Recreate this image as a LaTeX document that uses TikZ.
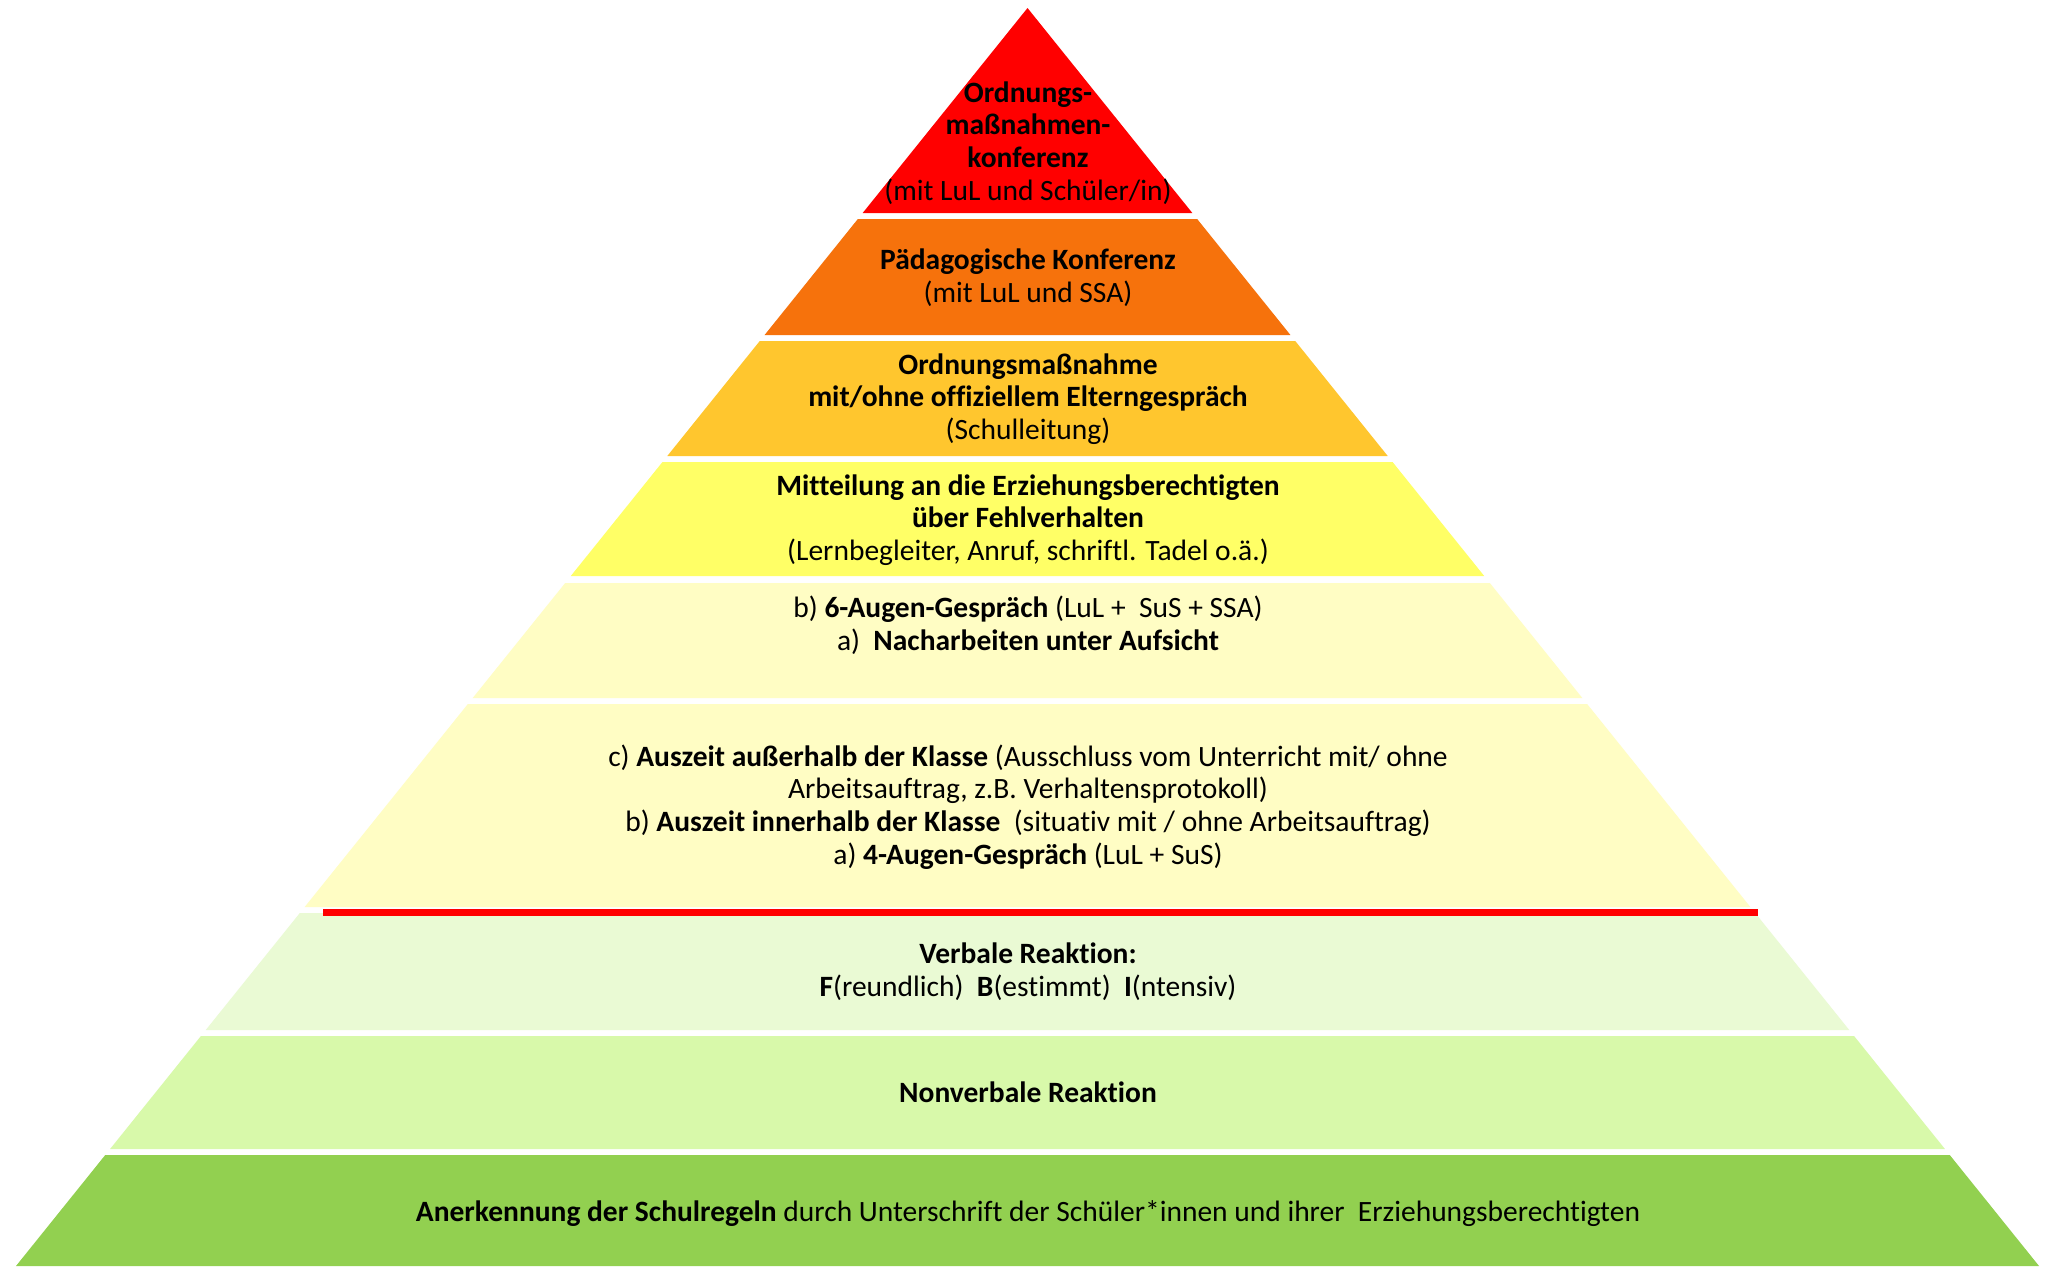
\documentclass[tikz,border=0pt]{standalone}
\usepackage{fontspec}
\setmainfont{Carlito}[Ligatures=CommonOff]
\definecolor{cRed}{RGB}{255,0,0}
\definecolor{cOrange}{RGB}{246,114,12}
\definecolor{cAmber}{RGB}{255,198,46}
\definecolor{cYellow}{RGB}{255,255,102}
\definecolor{cPale}{RGB}{255,253,196}
\definecolor{cGreenA}{RGB}{234,250,212}
\definecolor{cGreenB}{RGB}{216,249,170}
\definecolor{cGreenC}{RGB}{146,208,80}
\newcommand\pyrlayer[3]{%
  \fill[#3] ({1027.5-0.80406*(#1-8)},#1) -- ({1027.5+0.80406*(#1-8)},#1)
    -- ({1027.5+0.80406*(#2-8)},#2) -- ({1027.5-0.80406*(#2-8)},#2) -- cycle;}
\tikzset{
  lbl/.style={align=center, inner sep=0pt, font=\fontsize{14.75}{16.35}\selectfont, text=black},
}
\begin{document}
\begin{tikzpicture}[x=0.5pt,y=-0.5pt]
\useasboundingbox (0,0) rectangle (2049,1266);
\fill[white] (0,0) rectangle (2049,1266);
\pyrlayer{8}{213}{cRed}
\pyrlayer{219}{335}{cOrange}
\pyrlayer{341}{456}{cAmber}
\pyrlayer{462}{576}{cYellow}
\pyrlayer{583}{698}{cPale}
\pyrlayer{704}{907}{cPale}
\pyrlayer{913}{1030}{cGreenA}
\pyrlayer{1036}{1149}{cGreenB}
\pyrlayer{1155}{1266}{cGreenC}
\coordinate (rl) at (323,912);
\coordinate (rr) at (1758,912);
\draw[cRed, line width=3.5pt] (rl) -- (rr);
\node[lbl] (t1) at (1028,143) {\textbf{Ordnungs-}\\\textbf{maßnahmen-}\\\textbf{konferenz}\\(mit LuL und Schüler/in)};
\node[lbl] (t2) at (1028,278) {\textbf{Pädagogische Konferenz}\\(mit LuL und SSA)};
\node[lbl] (t3) at (1028,399) {\textbf{Ordnungsmaßnahme}\\\textbf{mit/ohne offiziellem Elterngespräch}\\(Schulleitung)};
\node[lbl] (t4) at (1028,520) {\textbf{Mitteilung an die Erziehungsberechtigten}\\\textbf{über Fehlverhalten}\\(Lernbegleiter, Anruf, schriftl. Tadel o.ä.)};
\node[lbl] (t5) at (1028,625) {b) \textbf{6-Augen-Gespräch} (LuL +\ \ SuS + SSA)\\a)\ \ \textbf{Nacharbeiten unter Aufsicht}};
\node[lbl] (t6) at (1028,807) {c) \textbf{Auszeit außerhalb der Klasse} (Ausschluss vom Unterricht mit/ ohne\\Arbeitsauftrag, z.B. Verhaltensprotokoll)\\b) \textbf{Auszeit innerhalb der Klasse}\ \ (situativ mit / ohne Arbeitsauftrag)\\a) \textbf{4-Augen-Gespräch} (LuL + SuS)};
\node[lbl] (t7) at (1028,972) {\textbf{Verbale Reaktion:}\\\textbf{F}(reundlich)\ \ \textbf{B}(estimmt)\ \ \textbf{I}(ntensiv)};
\node[lbl] (t8) at (1028,1092) {\textbf{Nonverbale Reaktion}};
\node[lbl] (t9) at (1028,1214) {\textbf{Anerkennung der Schulregeln} durch Unterschrift der Schüler*innen und ihrer\ \ Erziehungsberechtigten};
\end{tikzpicture}
\end{document}
